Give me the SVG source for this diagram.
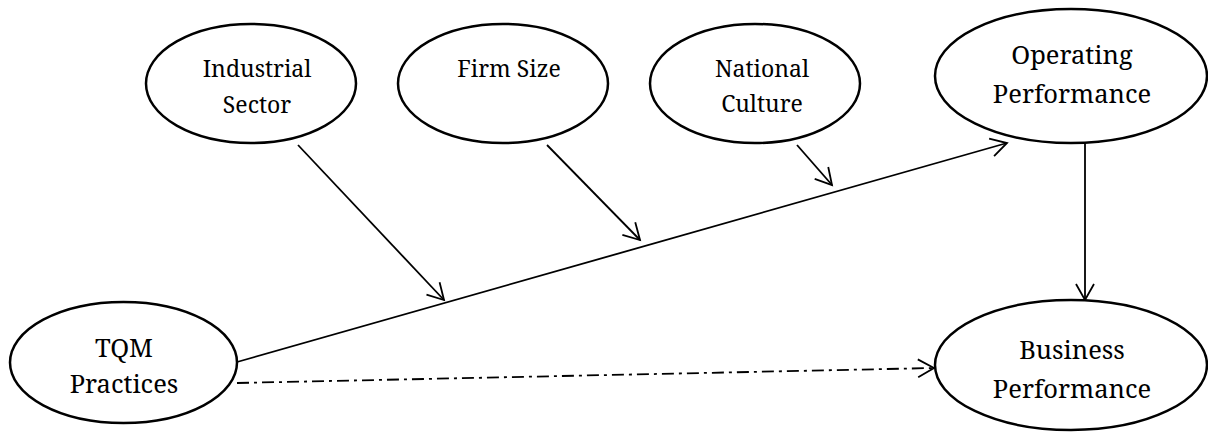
<svg xmlns="http://www.w3.org/2000/svg" width="1208" height="432" viewBox="0 0 1208 432">
<style>
.node ellipse{fill:#fff;stroke:#000;stroke-width:2.5}
.c line{stroke:#000;stroke-width:1.8;fill:none}
.dd{stroke-dasharray:12 5 3 5}
.t{font-family:"Noto Serif","DejaVu Serif","Liberation Serif",serif;fill:#000;text-anchor:middle}
.s{font-size:23px}
.b{font-size:25.5px}
</style>
<defs>
<marker id="ah" markerUnits="userSpaceOnUse" markerWidth="40" markerHeight="40" refX="0" refY="0" viewBox="-20 -20 40 40" orient="auto" overflow="visible">
<path d="M-16,-9 L0,0 L-16,9" fill="none" stroke="#000" stroke-width="1.8"/>
</marker>
</defs>
<rect width="1208" height="432" fill="#fff"/>
<g class="c" id="connectors">
<line x1="237" y1="362" x2="1007" y2="143" marker-end="url(#ah)"/>
<line x1="298" y1="145" x2="444" y2="300" marker-end="url(#ah)"/>
<line x1="547" y1="145" x2="640" y2="240" marker-end="url(#ah)"/>
<line x1="797" y1="145" x2="832" y2="185" marker-end="url(#ah)"/>
<line x1="1085" y1="143" x2="1085" y2="300" marker-end="url(#ah)"/>
<line class="dd" x1="237" y1="383" x2="934" y2="368" marker-end="url(#ah)"/>
</g>
<g class="node" id="industrial">
<ellipse cx="251" cy="83.5" rx="105" ry="59.5"/>
<text class="t s" x="257" y="77">Industrial</text>
<text class="t s" x="257" y="113">Sector</text>
</g>
<g class="node" id="firmsize">
<ellipse cx="503" cy="83.5" rx="105" ry="59.5"/>
<text class="t s" x="509" y="77">Firm Size</text>
</g>
<g class="node" id="culture">
<ellipse cx="755" cy="83.5" rx="105" ry="59.5"/>
<text class="t s" x="762" y="77">National</text>
<text class="t s" x="762" y="112">Culture</text>
</g>
<g class="node" id="operating">
<ellipse cx="1071" cy="76" rx="136" ry="67"/>
<text class="t b" x="1072" y="64">Operating</text>
<text class="t b" x="1072" y="103">Performance</text>
</g>
<g class="node" id="business">
<ellipse cx="1071" cy="365" rx="136" ry="65"/>
<text class="t b" x="1072" y="359">Business</text>
<text class="t b" x="1072" y="398">Performance</text>
</g>
<g class="node" id="tqm">
<ellipse cx="123.5" cy="362.5" rx="113.5" ry="60.5"/>
<text class="t b" x="124" y="357">TQM</text>
<text class="t b" x="124" y="393">Practices</text>
</g>
</svg>
